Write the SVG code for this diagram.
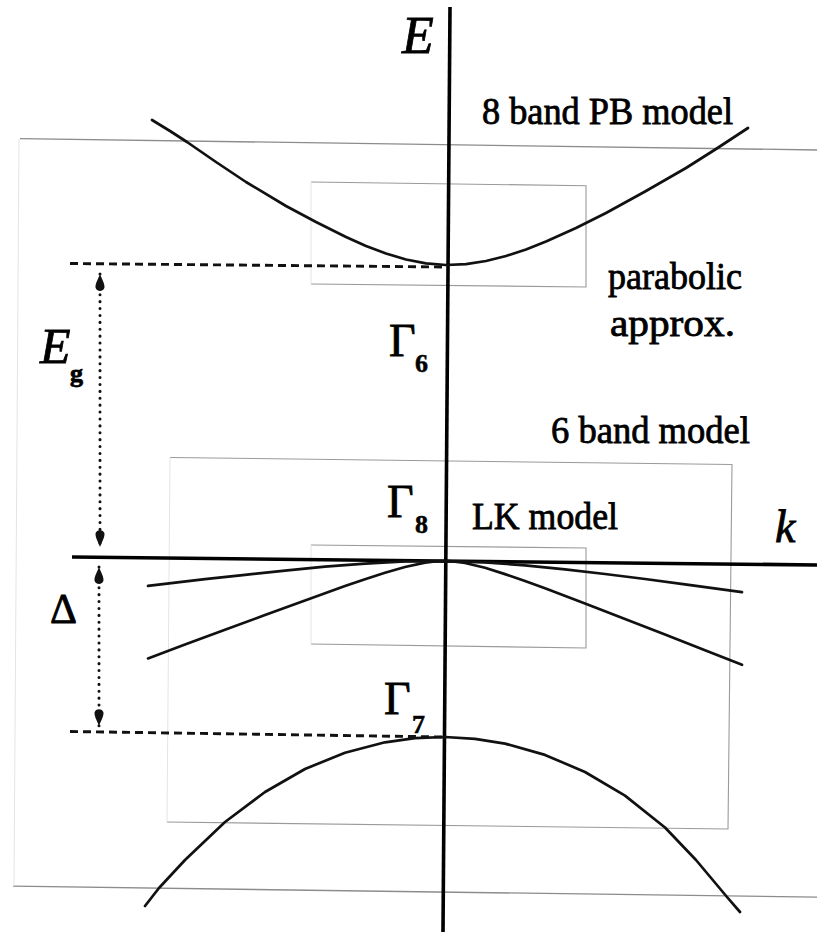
<svg xmlns="http://www.w3.org/2000/svg" width="817" height="932" viewBox="0 0 817 932">
  <style>
    .band { fill: none; stroke: #111; stroke-width: 2.7; stroke-linejoin: round; stroke-linecap: round; }
    .axis { stroke: #000; stroke-width: 3.6; fill: none; }
    .dash { stroke: #111; stroke-width: 2.9; stroke-dasharray: 8 5; fill: none; }
    .dots { stroke: #111; stroke-width: 3; stroke-dasharray: 0.1 6.8; stroke-linecap: round; fill: none; }
    .box { fill: none; stroke: #9a9a9a; stroke-width: 1.1; }
    .boxfaint { fill: none; stroke: #e4e4e4; stroke-width: 1; }
    .frame { fill: none; stroke: #8c8c8c; stroke-width: 1.3; }
    .lbl { font-family: "Liberation Serif", "Times New Roman", serif; fill: #000; stroke: #000; stroke-width: 0.8; }
    .it { font-style: italic; }
    .sub { font-weight: bold; font-size: 26px; stroke-width: 0.5; }
    .gam { font-size: 46px; }
  </style>
  <defs>
    <marker id="head" viewBox="0 0 18 11" refX="18" refY="5.5" markerWidth="18" markerHeight="11" markerUnits="userSpaceOnUse" orient="auto-start-reverse">
      <path d="M18,5.5 C13,3.8 9,0.8 4.5,1 C0,1.8 0,9.2 4.5,10 C9,10.2 13,7.2 18,5.5 Z" fill="#111"/>
    </marker>
  </defs>
  <rect x="0" y="0" width="817" height="932" fill="#fff"/>

  <g id="model-boxes">
    <g id="box-8band">
      <line class="frame" x1="20" y1="138.6" x2="817" y2="150"/>
      <line class="frame" x1="13" y1="886.2" x2="817" y2="897.2"/>
      <line class="boxfaint" x1="19" y1="139" x2="14" y2="886"/>
    </g>
    <g id="box-parabolic">
      <polyline class="box" points="311,182 586,185.7 586,287 311,284"/>
      <line class="boxfaint" x1="311" y1="284" x2="311" y2="182"/>
    </g>
    <g id="box-6band">
      <polyline class="box" points="170,457.5 732,464.5 728,829 167,822"/>
      <line class="boxfaint" x1="167" y1="822" x2="170" y2="457.5"/>
    </g>
    <g id="box-LK">
      <polyline class="box" points="311,545 586,548 586,648 311,644"/>
      <line class="boxfaint" x1="311" y1="644" x2="311" y2="545"/>
    </g>
  </g>

  <g id="axes">
    <line class="axis" x1="450" y1="7" x2="443" y2="932"/>
    <line class="axis" x1="72" y1="557" x2="817" y2="565"/>
  </g>

  <g id="bands">
    <path id="band-G6" class="band" d="M152,120 L170,131 L187,142 L216,162 L246,182 L286,206 L316,222 L346,237 L366,246 L386,253.5 L406,259.5 L426,263.3 L446,265 L466,264.2 L486,261 L506,256 L526,249.5 L546,241.5 L576,228 L606,213 L646,191 L686,168 L716,149 L748,128"/>
    <path id="band-HH" class="band" d="M148,585.8 L205,579.2 L245,574.8 L285,570.6 L325,566.7 L365,563.6 L405,561.5 L445,561 L485,562.4 L525,565.3 L565,569.3 L605,574 L645,579 L685,584.4 L742,592.1"/>
    <path id="band-LH" class="band" d="M148,658.4 L185,644.6 L225,629.8 L265,615.1 L305,600.4 L345,586.1 L365,579.3 L385,572.8 L405,567 L425,562.6 L435,561.4 L445,561 L455,561.6 L465,563 L485,567.8 L505,574.1 L525,581 L545,588.3 L585,603.4 L625,618.9 L665,634.5 L705,650.2 L742,664.8"/>
    <path id="band-G7" class="band" d="M145,906 L159,888 L185,860 L225,822 L265,792 L305,769 L345,752.7 L385,742.3 L415,738.2 L445,737 L475,738.8 L505,743.6 L545,754.9 L585,772 L625,795.6 L665,827.5 L696,860 L727,897 L740,912"/>
  </g>

  <g id="connectors">
    <line class="dash" x1="70" y1="263.5" x2="446" y2="267"/>
    <line class="dash" x1="70" y1="731.5" x2="445" y2="737"/>
    <line id="arrow-Eg" class="dots" x1="100" y1="274" x2="100" y2="547" marker-start="url(#head)" marker-end="url(#head)"/>
    <line id="arrow-Delta" class="dots" x1="99" y1="567" x2="99" y2="726" marker-start="url(#head)" marker-end="url(#head)"/>
  </g>

  <g id="labels">
    <text id="lbl-E" class="lbl it" x="402" y="53" font-size="52">E</text>
    <text id="lbl-k" class="lbl it" x="775" y="542" font-size="46">k</text>
    <text id="lbl-8band" class="lbl" x="482" y="124" font-size="38" textLength="251" lengthAdjust="spacingAndGlyphs">8 band PB model</text>
    <text id="lbl-parabolic" class="lbl" x="608" y="289" font-size="38" textLength="134" lengthAdjust="spacingAndGlyphs">parabolic</text>
    <text id="lbl-approx" class="lbl" x="610" y="336" font-size="38" textLength="125" lengthAdjust="spacingAndGlyphs">approx.</text>
    <text id="lbl-6band" class="lbl" x="551" y="443" font-size="38" textLength="199" lengthAdjust="spacingAndGlyphs">6 band model</text>
    <text id="lbl-LK" class="lbl" x="472" y="529" font-size="37" textLength="146" lengthAdjust="spacingAndGlyphs">LK model</text>
    <g id="lbl-G6"><text class="lbl gam" x="389" y="356">Γ</text><text class="lbl sub" x="415" y="372">6</text></g>
    <g id="lbl-G8"><text class="lbl gam" x="387" y="517">Γ</text><text class="lbl sub" x="415" y="533">8</text></g>
    <g id="lbl-G7"><text class="lbl gam" x="384" y="714">Γ</text><text class="lbl sub" x="412" y="733">7</text></g>
    <g id="lbl-Eg"><text class="lbl it" x="40" y="363" font-size="50">E</text><text class="lbl" x="70" y="382" font-size="26" font-weight="bold" stroke-width="0.5">g</text></g>
    <text id="lbl-Delta" class="lbl" x="50" y="623" font-size="42">Δ</text>
  </g>
</svg>
